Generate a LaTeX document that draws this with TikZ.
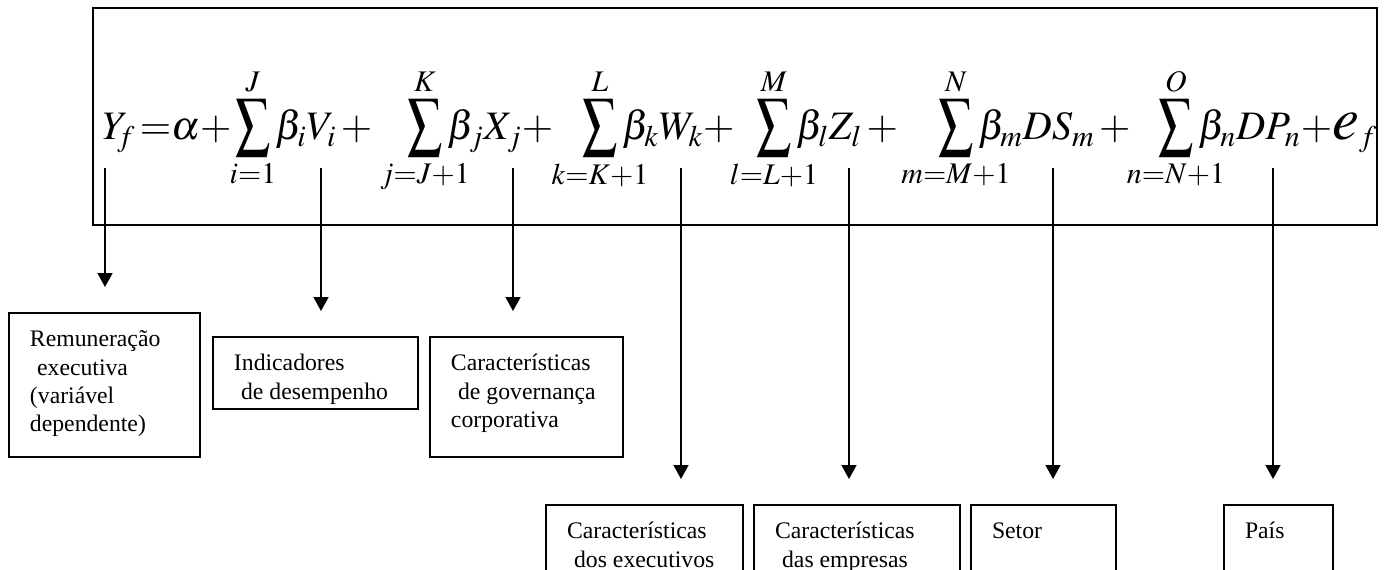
\documentclass[tikz,border=0pt]{standalone}
\usepackage{mathptmx}
\usepackage{mathtools}
\usepackage{graphicx}
\usepackage{fontspec}
\setmainfont{Liberation Serif}
\usepackage{xcolor}
\usepackage{tikz}
\usetikzlibrary{arrows.meta, positioning}

\newcommand{\bsum}{\mathop{\scalebox{0.85}[1.15]{$\displaystyle\sum$}}\limits}
\newcommand{\boxtext}[3]{\parbox[c][#2][t]{#1}{\raggedright\leftskip=0.42cm\rule{0pt}{0.68cm}#3}}

\begin{document}
\begin{tikzpicture}[x=0.02cm, y=-0.02cm,
    term/.style={anchor=base west, inner sep=0pt, font=\fontsize{23}{28}\selectfont},
    varbox/.style={draw, line width=0.04cm, inner sep=0pt, anchor=north west, font=\fontsize{13.5}{16}\selectfont},
    link/.style={line width=0.03cm, -{Triangle[length=0.28cm, width=0.3cm]}, shorten >=0.5cm}]
    \useasboundingbox (0,0) rectangle (1393,570);
    \clip (0,0) rectangle (1393,570);

    % equation
    \draw[line width=0.045cm] (93,8) rectangle (1377,225);
    \node[term] (t0) at (102,140) {$Y_{\!f}\,{=}\alpha{+}$};
    \node[term] (t1) at (235,140) {$\bsum_{\mathclap{i=1}}^{J}\beta_i V_i\,{+}$};
    \node[term] (t2) at (407,140) {$\bsum_{\mathclap{j=J+1}}^{K}\beta_j X_j{+}$};
    \node[term] (t3) at (582,140) {$\bsum_{\mathclap{k=K+1}}^{L}\beta_k W_k{+}$};
    \node[term] (t4) at (756,140) {$\bsum_{\mathclap{l=L+1}}^{M}\beta_l Z_l\,{+}$};
    \node[term] (t5) at (938,140) {$\bsum_{\mathclap{m=M+1}}^{N}\beta_m DS_m\,{+}$};
    \node[term] (t6) at (1158,140) {$\bsum_{\mathclap{n=N+1}}^{O}\beta_n DP_n{+}\scalebox{1.5}{$e$}_f$};

    % variable groups
    \node[varbox] (rem) at (8,312) {\boxtext{3.82cm}{2.88cm}{Remuneração\\\hspace*{0.3em}executiva\\(variável\\dependente)}};
    \node[varbox] (ind) at (212,336) {\boxtext{4.10cm}{1.44cm}{Indicadores\\\hspace*{0.3em}de desempenho}};
    \node[varbox] (gov) at (429,336) {\boxtext{3.86cm}{2.40cm}{Características\\\hspace*{0.3em}de governança\\corporativa}};
    \node[varbox] (exe) at (545,504) {\boxtext{3.94cm}{2.00cm}{Características\\\hspace*{0.3em}dos executivos}};
    \node[varbox] (emp) at (753,504) {\boxtext{4.12cm}{2.00cm}{Características\\\hspace*{0.3em}das empresas}};
    \node[varbox] (set) at (970,504) {\boxtext{2.90cm}{2.00cm}{Setor}};
    \node[varbox] (pai) at (1223,504) {\boxtext{2.18cm}{2.00cm}{País}};

    \coordinate (aY) at (105,168);
    \coordinate (aV) at (321,168);
    \coordinate (aX) at (513,168);
    \coordinate (aW) at (681,168);
    \coordinate (aZ) at (849,168);
    \coordinate (aS) at (1053,168);
    \coordinate (aP) at (1273,168);

    \path[link]
    (aY) edge (aY |- rem.north)
    (aV) edge (aV |- ind.north)
    (aX) edge (aX |- gov.north)
    (aW) edge (aW |- exe.north)
    (aZ) edge (aZ |- emp.north)
    (aS) edge (aS |- set.north)
    (aP) edge (aP |- pai.north);
\end{tikzpicture}
\end{document}
